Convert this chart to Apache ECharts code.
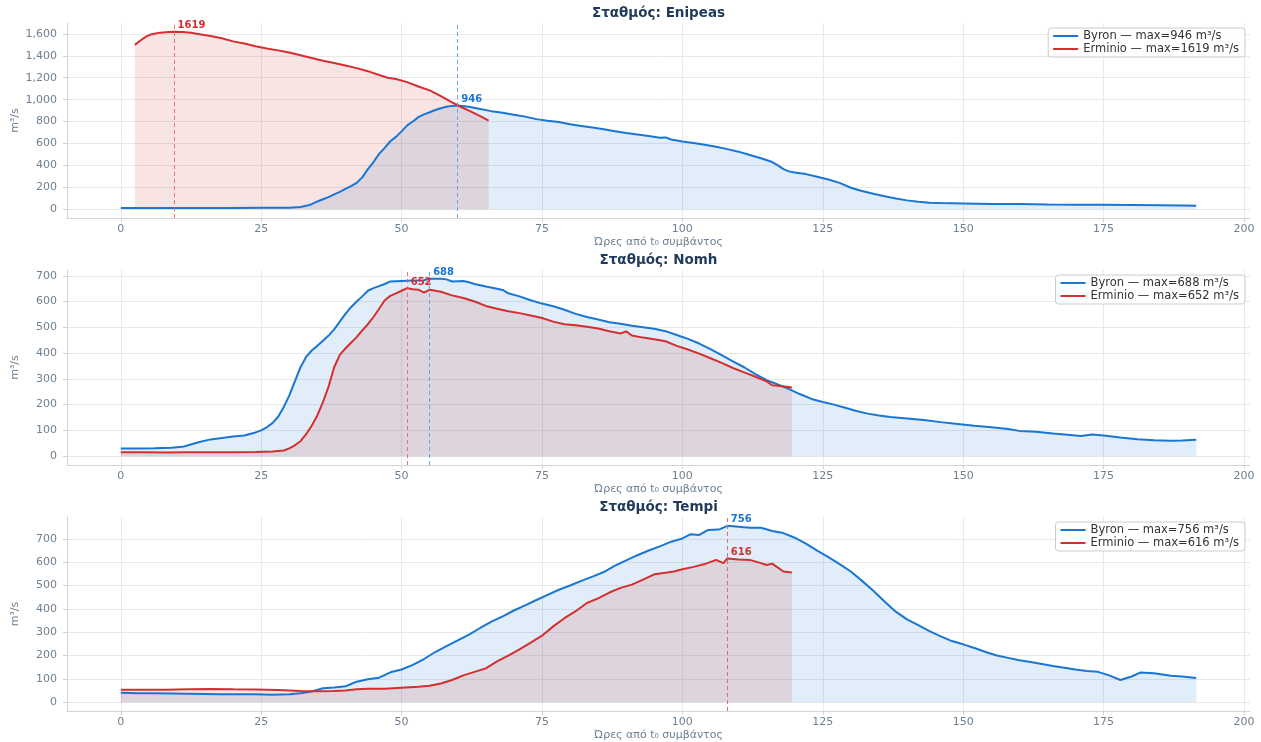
<!DOCTYPE html>
<html><head><meta charset="utf-8">
<script src="https://cdn.jsdelivr.net/npm/echarts@6/dist/echarts.min.js"></script>
<style>html,body{margin:0;padding:0;background:#fff}#c{width:1261px;height:742px}</style>
</head><body><div id="c"></div>
<script>
// ---------- data ----------
const stations = ['Enipeas', 'Nomh', 'Tempi'];
const xTicks = [0, 25, 50, 75, 100, 125, 150, 175, 200];
const yTicksEnipeas = [0, 200, 400, 600, 800, 1000, 1200, 1400, 1600];
const yTicksNomh = [0, 100, 200, 300, 400, 500, 600, 700];
const yTicksTempi = [0, 100, 200, 300, 400, 500, 600, 700];

const enipeasByron = [[0,10],[5,10],[10,10],[15,11],[20,11],[25,12],[30,13],[32,20],[33,30],[34,45],[35,70],[36,90],[37,110],[38,135],[39,158],[40,185],[41,210],[42,240],[43,290],[44,365],[45,430],[46,505],[47,560],[48,620],[49,660],[50,710],[51,765],[52,800],[53,840],[54,865],[55,885],[56,905],[57,922],[58,935],[59,943],[60,946],[62,935],[64,915],[66,895],[68,880],[70,862],[72,845],[74,822],[76,808],[78,795],[80,775],[82,760],[84,745],[86,730],[88,712],[90,695],[92,682],[94,668],[96,652],[97,655],[98,636],[100,618],[102,605],[104,588],[106,570],[108,548],[110,525],[112,495],[114,465],[116,430],[117,400],[118,365],[119,345],[120,335],[122,320],[124,295],[126,270],[128,240],[130,195],[132,165],[134,140],[136,118],[138,98],[140,80],[142,68],[144,58],[146,55],[150,52],[155,48],[160,46],[165,42],[170,40],[175,40],[180,38],[185,36],[189,34],[191.5,30]];
const enipeasErminio = [[2.5,1500],[3.5,1540],[4.5,1575],[5.5,1598],[7,1612],[8.5,1618],[9.5,1619],[11,1617],[12.5,1610],[14,1598],[16,1582],[18,1560],[20,1532],[22,1512],[24,1488],[26,1468],[28,1450],[30,1430],[32,1405],[34,1380],[36,1355],[38,1335],[40,1312],[42,1288],[44,1260],[46,1225],[47.5,1200],[49,1188],[51,1160],[53,1120],[55,1085],[57,1032],[59,975],[60.5,935],[62,900],[64,850],[65.5,808]];

const nomhByron = [[0,30],[3,30],[6,31],[9,33],[11,36],[12,42],[14,55],[16,65],[18,70],[20,76],[22,80],[24,92],[25,100],[26,112],[27,128],[28,152],[29,190],[30,235],[31,290],[32,345],[33,385],[34,410],[35,428],[36,448],[37,468],[38,492],[39,522],[40,552],[41,578],[42,600],[43,620],[44,642],[45,652],[46,660],[47,668],[48,678],[50,680],[52,682],[54,683],[55,688],[57,688],[58,686],[59,678],[61,680],[62,675],[63,668],[65,658],[67,650],[68,645],[69,632],[71,620],[73,605],[75,592],[77,582],[79,568],[81,552],[83,540],[85,530],[87,520],[89,514],[91,506],[93,500],[95,494],[97,485],[99,470],[101,455],[103,437],[105,415],[107,392],[109,368],[111,345],[113,318],[115,295],[117,278],[119,260],[121,240],[123,222],[125,210],[127,200],[129,188],[131,175],[133,165],[135,158],[137,152],[140,146],[143,140],[146,132],[149,125],[152,118],[155,112],[158,105],[160,98],[163,95],[166,88],[169,82],[171,78],[173,84],[175,80],[178,72],[181,66],[184,62],[187,60],[189,61],[191.5,64]];
const nomhErminio = [[0,15],[4,15],[8,14],[12,15],[16,15],[20,15],[24,16],[27,18],[29,22],[30,30],[31,42],[32,58],[33,85],[34,118],[35,158],[36,210],[37,270],[38,345],[39,393],[40,418],[41,440],[42,462],[43,488],[44,512],[45,540],[46,572],[47,605],[48,622],[49,632],[50,642],[51,652],[52,648],[53,646],[54,635],[55,646],[56,642],[57,638],[59,624],[61,614],[63,600],[65,583],[67,572],[69,562],[71,555],[73,546],[75,536],[77,522],[79,512],[81,508],[83,502],[85,495],[87,485],[89,476],[90,484],[91,468],[93,460],[95,454],[97,446],[99,428],[101,414],[103,398],[105,380],[107,362],[109,342],[111,325],[113,308],[115,290],[116,275],[117.5,272],[119.5,266]];

const tempiByron = [[0,40],[3,38],[6,38],[9,37],[12,36],[15,35],[18,34],[21,34],[24,34],[27,32],[30,34],[32,38],[34,46],[36,60],[38,63],[40,68],[41,78],[42,88],[44,98],[46,105],[48,128],[50,140],[52,160],[54,185],[56,215],[58,240],[60,265],[62,290],[64,318],[66,345],[68,368],[70,393],[72,415],[74,438],[76,460],[78,482],[80,500],[82,520],[84,538],[86,558],[88,585],[90,608],[92,630],[94,650],[96,668],[98,688],[100,702],[101.5,720],[103,717],[104.5,738],[106.5,740],[108,756],[110,752],[112,748],[114,748],[116,734],[118,725],[120,705],[122,680],[124,650],[126,622],[128,592],[130,560],[132,520],[134,478],[136,432],[138,388],[140,355],[142,330],[144,305],[146,282],[148,262],[150,248],[152,232],[154,215],[156,200],[158,190],[160,180],[162,172],[164,164],[166,155],[168,148],[170,140],[172,134],[174,130],[176,115],[178,95],[180,110],[181.5,127],[184,124],[187,113],[189,110],[191.5,104]];
const tempiErminio = [[0,53],[4,53],[8,53],[12,55],[16,57],[20,55],[24,54],[28,52],[32,48],[35,47],[38,48],[40,50],[42,55],[44,58],[47,58],[50,62],[53,66],[55,70],[57,80],[59,95],[61,115],[63,130],[65,145],[67,175],[69,200],[71,226],[73,255],[75,285],[77,325],[79,360],[81,390],[83,425],[85,445],[87,470],[89,490],[91,504],[93,525],[95,548],[97,555],[98.5,560],[100,570],[102,580],[104,592],[106,610],[107.3,596],[108,616],[110,612],[112,610],[114,596],[115,588],[116,594],[118,560],[119.5,556]];

// ---------- styling ----------
const FONT = 'DejaVu Sans';
const BLUE = '#1976d2', RED = '#d32f2f';
const BLUE_DASH = '#5e9be0', RED_DASH = '#e06a6a';
const TICK_COLOR = '#6f8090', AXIS_COLOR = '#d4d4d4', GRID_COLOR = '#e9e9e9';
const GRID_LEFT = 67, GRID_RIGHT = 11, GRID_H = 195;
const gridTops = [23, 270, 517];
const titleTops = [7, 254, 501];
const legendTops = [28, 275, 522];

const panels = [
  {byron: enipeasByron, erminio: enipeasErminio, yTicks: yTicksEnipeas},
  {byron: nomhByron, erminio: nomhErminio, yTicks: yTicksNomh},
  {byron: tempiByron, erminio: tempiErminio, yTicks: yTicksTempi}
];

function peak(arr) { let m = arr[0]; for (const p of arr) if (p[1] > m[1]) m = p; return m; }
function extent(arrs, idx) {
  let lo = Infinity, hi = -Infinity;
  for (const a of arrs) for (const p of a) { lo = Math.min(lo, p[idx]); hi = Math.max(hi, p[idx]); }
  return [lo, hi];
}

const grid = [], xAxis = [], yAxis = [], series = [], title = [], legend = [];
const allX = extent([].concat(panels.map(p => p.byron), panels.map(p => p.erminio)), 0);
const xPad = (allX[1] - allX[0]) * 0.05;

panels.forEach((p, i) => {
  grid.push({left: GRID_LEFT, right: GRID_RIGHT, top: gridTops[i], height: GRID_H, containLabel: false});
  const yHi = Math.max(extent([p.byron, p.erminio], 1)[1], 0);
  const yPad = yHi * 0.05;
  title.push({
    text: 'Σταθμός: ' + stations[i], left: GRID_LEFT + (1261 - GRID_LEFT - GRID_RIGHT) / 2, textAlign: 'center',
    top: titleTops[i] - 1, padding: 0,
    textStyle: {fontFamily: FONT, fontSize: 13.5, fontWeight: 'bold', color: '#1f3a5a'}
  });
  xAxis.push({
    type: 'value', gridIndex: i, min: allX[0] - xPad, max: allX[1] + xPad,
    name: 'Ώρες από t₀ συμβάντος', nameLocation: 'middle', nameGap: 19, nameMoveOverlap: false,
    nameTextStyle: {fontFamily: FONT, fontSize: 11, color: TICK_COLOR},
    axisLine: {onZero: false, lineStyle: {color: AXIS_COLOR, width: 1}},
    axisTick: {show: true, length: 4, lineStyle: {color: AXIS_COLOR}, customValues: xTicks},
    axisLabel: {fontFamily: FONT, fontSize: 11, color: TICK_COLOR, margin: 6, customValues: xTicks, showMinLabel: true, showMaxLabel: true},
    splitLine: {show: true, lineStyle: {color: GRID_COLOR, width: 1}}
  });
  yAxis.push({
    type: 'value', gridIndex: i, min: -yPad, max: yHi + yPad,
    name: 'm³/s', nameLocation: 'middle', nameGap: 46, nameMoveOverlap: false,
    nameTextStyle: {fontFamily: FONT, fontSize: 11, color: TICK_COLOR},
    axisLine: {show: true, onZero: false, lineStyle: {color: AXIS_COLOR, width: 1}},
    axisTick: {show: true, length: 4, lineStyle: {color: AXIS_COLOR}, customValues: p.yTicks},
    axisLabel: {fontFamily: FONT, fontSize: 11, color: TICK_COLOR, margin: 10, customValues: p.yTicks,
      formatter: v => Number(v).toLocaleString('en-US')},
    splitLine: {show: true, lineStyle: {color: GRID_COLOR, width: 1}}
  });
  const names = [];
  [['Byron', p.byron, BLUE, BLUE_DASH], ['Erminio', p.erminio, RED, RED_DASH]].forEach(([label, data, col, dashCol]) => {
    const pk = peak(data);
    const name = label + ' — max=' + pk[1] + ' m³/s';
    names.push(name);
    series.push({
      type: 'line', name, xAxisIndex: i, yAxisIndex: i, data,
      showSymbol: false, symbol: 'none', animation: false,
      lineStyle: {color: col, width: 2}, itemStyle: {color: col},
      areaStyle: {color: col, opacity: 0.13},
      emphasis: {disabled: true},
      markLine: {
        silent: true, symbol: 'none', animation: false, label: {show: false},
        lineStyle: {color: dashCol, type: [4, 3], width: 1, opacity: 0.9},
        emphasis: {disabled: true},
        data: [{xAxis: pk[0]}]
      },
      markPoint: {
        silent: true, symbol: 'circle', symbolSize: 1, animation: false,
        itemStyle: {color: 'rgba(0,0,0,0)'},
        label: {show: true, position: 'right', distance: 3, offset: [0, -6], formatter: String(pk[1]),
          color: col, fontWeight: 'bold', fontSize: 10, fontFamily: FONT},
        data: [{coord: pk}]
      }
    });
  });
  legend.push({
    orient: 'vertical', right: 16, top: legendTops[i], data: names, icon: 'rect',
    itemWidth: 25, itemHeight: 2, itemGap: 1, selectedMode: false,
    textStyle: {fontFamily: FONT, fontSize: 11.5, color: '#333', lineHeight: 12},
    backgroundColor: 'rgba(255,255,255,0.85)', borderColor: '#cccccc', borderWidth: 1, borderRadius: 3,
    padding: [2, 6, 2, 5]
  });
});

const chart = echarts.init(document.getElementById('c'), null, {renderer: 'canvas'});
chart.setOption({animation: false, backgroundColor: '#fff', title, grid, xAxis, yAxis, legend, series});
</script>
</body></html>
